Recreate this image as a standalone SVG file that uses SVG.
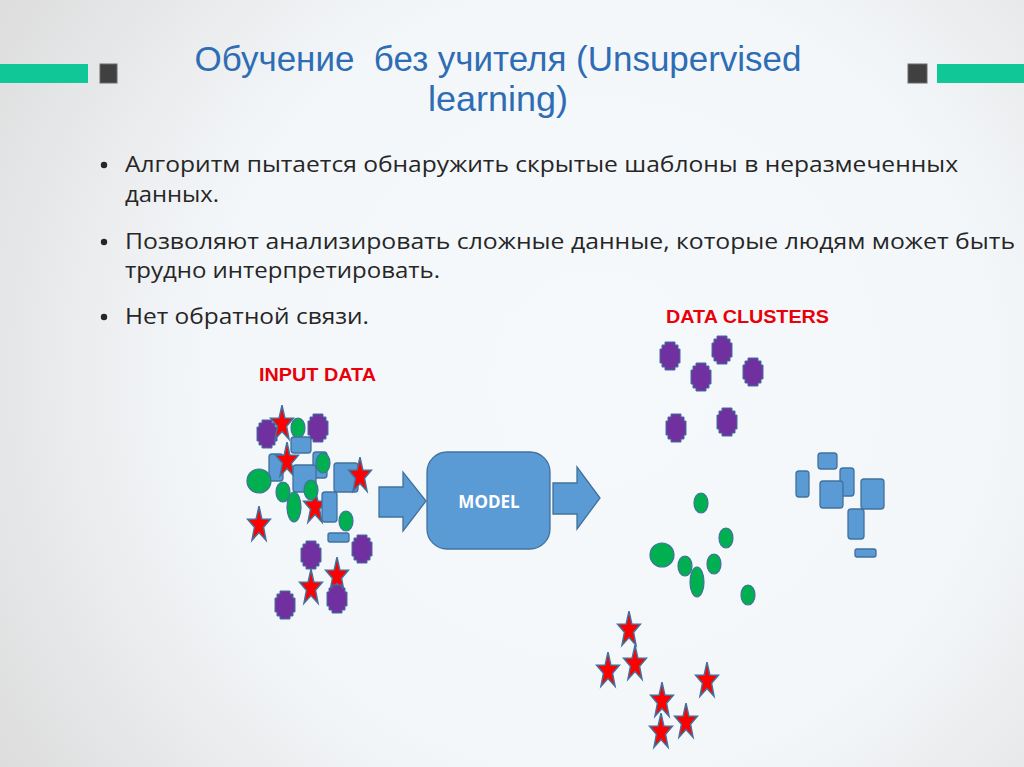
<svg xmlns="http://www.w3.org/2000/svg" xmlns:xlink="http://www.w3.org/1999/xlink" width="1024" height="767" viewBox="0 0 1024 767">
<defs>
<radialGradient id="bg" cx="600" cy="380" r="720" gradientUnits="userSpaceOnUse">
<stop offset="0" stop-color="#f6f9fc"/>
<stop offset="0.55" stop-color="#f4f7fa"/>
<stop offset="1" stop-color="#dcdcdc"/>
</radialGradient>
<polygon id="pp" points="-5,-14 5,-14 5,-11 8,-11 8,-7 10,-7 10,7 8,7 8,11 5,11 5,14 -5,14 -5,11 -8,11 -8,7 -10,7 -10,-7 -8,-7 -8,-11 -5,-11" class="purple"/>
<path id="st" class="star" d="M0,-18.8 L2.82,-6.07 L11.41,-5.81 L4.56,2.32 L7.05,15.21 L0,7.5 L-7.05,15.21 L-4.56,2.32 L-11.41,-5.81 L-2.82,-6.07 Z"/>
</defs>
<style>
.purple{fill:#7030A0;stroke:#41719C;stroke-width:1}
.star{fill:#FF0000;stroke:#41719C;stroke-width:1.5;stroke-linejoin:miter}
.green{fill:#00B050;stroke:#41719C;stroke-width:1.2}
.blue{fill:#5B9BD5;stroke:#41719C;stroke-width:1.3}
.title{font-family:"Liberation Sans",Arial,sans-serif;font-size:35px;fill:#2E6DB4}
.body{font-family:"Open Sans","Noto Sans",sans-serif;font-size:22px;fill:#262626}
.lbl{font-family:"Liberation Sans",Arial,sans-serif;font-weight:bold;font-size:18px;fill:#E8000B}
</style>
<rect x="0" y="0" width="1024" height="767" fill="url(#bg)"/>
<g id="decor">
<rect x="0" y="64" width="88" height="19" fill="#10C897"/>
<rect x="100" y="64" width="17" height="19" fill="#404040" stroke="#6a6a6a" stroke-width="1"/>
<rect x="908" y="64" width="19" height="19" fill="#404040" stroke="#6a6a6a" stroke-width="1"/>
<rect x="937" y="64" width="87" height="19" fill="#10C897"/>
</g>
<g id="title">
<text class="title" text-anchor="middle" xml:space="preserve"><tspan x="498" y="71" textLength="607" lengthAdjust="spacingAndGlyphs">Обучение  без учителя (Unsupervised</tspan><tspan x="498" y="111" textLength="140" lengthAdjust="spacingAndGlyphs">learning)</tspan></text>
</g>
<g id="bullets">
<circle cx="104" cy="165" r="3.2" fill="#262626"/>
<text class="body" x="125" y="172" textLength="833" lengthAdjust="spacingAndGlyphs">Алгоритм пытается обнаружить скрытые шаблоны в неразмеченных</text>
<text class="body" x="125" y="202" textLength="94" lengthAdjust="spacingAndGlyphs">данных.</text>
<circle cx="104" cy="242" r="3.2" fill="#262626"/>
<text class="body" x="125" y="249" textLength="890" lengthAdjust="spacingAndGlyphs">Позволяют анализировать сложные данные, которые людям может быть</text>
<text class="body" x="125" y="278" textLength="315" lengthAdjust="spacingAndGlyphs">трудно интерпретировать.</text>
<circle cx="104" cy="317" r="3.2" fill="#262626"/>
<text class="body" x="125" y="324" textLength="244" lengthAdjust="spacingAndGlyphs">Нет обратной связи.</text>
</g>
<g id="input-data">
<text class="lbl" x="259" y="381" textLength="117" lengthAdjust="spacingAndGlyphs">INPUT DATA</text>
<use xlink:href="#pp" href="#pp" x="267" y="434"/>
<use xlink:href="#pp" href="#pp" x="318" y="428"/>
<use xlink:href="#st" href="#st" x="282" y="424"/>
<ellipse class="green" cx="298" cy="428" rx="7" ry="10"/>
<rect class="blue" x="291" y="437" width="20" height="16" rx="3"/>
<rect class="blue" x="269" y="454" width="14" height="27" rx="3"/>
<use xlink:href="#st" href="#st" x="287" y="461"/>
<rect class="blue" x="313" y="452" width="14" height="26" rx="3"/>
<rect class="blue" x="293" y="465" width="23" height="27" rx="3"/>
<ellipse class="green" cx="323" cy="463" rx="7" ry="10"/>
<rect class="blue" x="334" y="463" width="24" height="29" rx="3"/>
<use xlink:href="#st" href="#st" x="360" y="476"/>
<ellipse class="green" cx="259" cy="481" rx="12" ry="12"/>
<ellipse class="green" cx="283" cy="492" rx="7" ry="10"/>
<use xlink:href="#st" href="#st" x="315" y="507"/>
<ellipse class="green" cx="311" cy="490" rx="7" ry="10"/>
<ellipse class="green" cx="294" cy="507" rx="7" ry="15"/>
<rect class="blue" x="322" y="492" width="15" height="30" rx="3"/>
<ellipse class="green" cx="346" cy="521" rx="7" ry="10"/>
<use xlink:href="#st" href="#st" x="259" y="525"/>
<rect class="blue" x="328" y="533" width="21" height="9" rx="2"/>
<use xlink:href="#pp" href="#pp" x="311" y="555"/>
<use xlink:href="#pp" href="#pp" x="362" y="549"/>
<use xlink:href="#st" href="#st" x="337" y="576"/>
<use xlink:href="#st" href="#st" x="311" y="588"/>
<use xlink:href="#pp" href="#pp" x="285" y="605"/>
<use xlink:href="#pp" href="#pp" x="337" y="599"/>
</g>
<g id="connectors">
<polygon id="arrow-in" class="blue" points="379,487 403,487 403,472 426,501 403,531 403,517 379,517"/>
<polygon id="arrow-out" class="blue" points="553,483 577,483 577,467 600,498 577,529 577,514 553,514"/>
</g>
<g id="model">
<rect class="blue" x="427" y="452" width="123" height="97" rx="20"/>
<text x="489" y="508" text-anchor="middle" font-family="'Open Sans','Noto Sans',sans-serif" font-weight="bold" font-size="17" fill="#ffffff">MODEL</text>
</g>
<g id="data-clusters">
<text class="lbl" x="666" y="323" textLength="163" lengthAdjust="spacingAndGlyphs">DATA CLUSTERS</text>
<g id="cluster-purple">
<use xlink:href="#pp" href="#pp" x="670" y="356"/>
<use xlink:href="#pp" href="#pp" x="722" y="350"/>
<use xlink:href="#pp" href="#pp" x="701" y="377"/>
<use xlink:href="#pp" href="#pp" x="753" y="372"/>
<use xlink:href="#pp" href="#pp" x="676" y="428"/>
<use xlink:href="#pp" href="#pp" x="727" y="422"/>
</g>
<g id="cluster-green">
<ellipse class="green" cx="701" cy="503" rx="7" ry="10"/>
<ellipse class="green" cx="726" cy="538" rx="7" ry="10"/>
<ellipse class="green" cx="662" cy="555" rx="12" ry="12"/>
<ellipse class="green" cx="685" cy="566" rx="7" ry="10"/>
<ellipse class="green" cx="714" cy="564" rx="7" ry="10"/>
<ellipse class="green" cx="697" cy="582" rx="7" ry="15"/>
<ellipse class="green" cx="748" cy="595" rx="7" ry="10"/>
</g>
<g id="cluster-blue">
<rect class="blue" x="818" y="453" width="19" height="16" rx="3"/>
<rect class="blue" x="796" y="471" width="13" height="26" rx="3"/>
<rect class="blue" x="840" y="468" width="14" height="28" rx="3"/>
<rect class="blue" x="820" y="481" width="23" height="27" rx="3"/>
<rect class="blue" x="848" y="509" width="16" height="30" rx="3"/>
<rect class="blue" x="861" y="479" width="23" height="30" rx="3"/>
<rect class="blue" x="855" y="549" width="21" height="8" rx="2"/>
</g>
<g id="cluster-red">
<use xlink:href="#st" href="#st" x="629" y="630"/>
<use xlink:href="#st" href="#st" x="608" y="671"/>
<use xlink:href="#st" href="#st" x="635" y="664"/>
<use xlink:href="#st" href="#st" x="707" y="681"/>
<use xlink:href="#st" href="#st" x="662" y="701"/>
<use xlink:href="#st" href="#st" x="686" y="722"/>
<use xlink:href="#st" href="#st" x="661" y="732"/>
</g>
</g>
</svg>
